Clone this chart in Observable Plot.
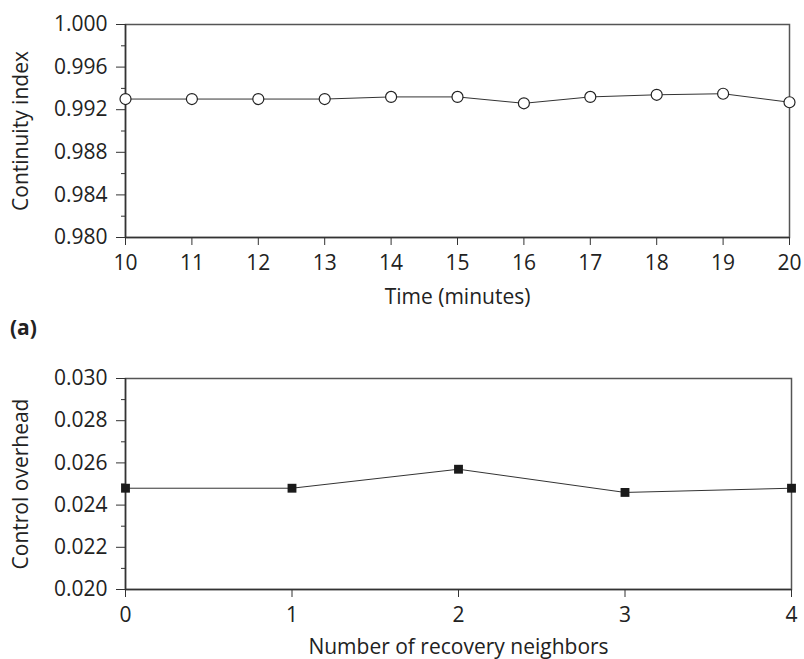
<!DOCTYPE html>
<html>
<head>
<meta charset="utf-8">
<script src="https://cdn.jsdelivr.net/npm/d3@7"></script>
<script src="https://cdn.jsdelivr.net/npm/@observablehq/plot@0.6"></script>
<style>
  html, body { margin: 0; padding: 0; background: #fff; }
  #wrap { position: relative; width: 804px; height: 659px; font-family: "Open Sans", sans-serif; overflow: hidden; }
  #c1 { position: absolute; left: 0; top: 0; }
  #c2 { position: absolute; left: 0; top: 350px; }
  #lab { position: absolute; left: 10px; top: 313px; font-size: 21px; font-weight: bold; color: #222; }
  svg { overflow: visible; }
</style>
</head>
<body>
<div id="wrap">
  <div id="c1"></div>
  <div id="lab">(a)</div>
  <div id="c2"></div>
</div>
<script>
// Panel (a): continuity index vs time
const timeMinutes = [10, 11, 12, 13, 14, 15, 16, 17, 18, 19, 20];
const continuityIndex = [0.9930, 0.9930, 0.9930, 0.9930, 0.9932, 0.9932, 0.9926, 0.9932, 0.9934, 0.9935, 0.9927];
const yTicksA = [0.980, 0.984, 0.988, 0.992, 0.996, 1.000];
const yMinorA = [0.982, 0.986, 0.990, 0.994, 0.998];

// Panel (b): control overhead vs number of recovery neighbors
const recoveryNeighbors = [0, 1, 2, 3, 4];
const controlOverhead = [0.0248, 0.0248, 0.0257, 0.0246, 0.0248];
const yTicksB = [0.020, 0.022, 0.024, 0.026, 0.028, 0.030];
const yMinorB = [0.021, 0.023, 0.025, 0.027, 0.029];

const dataA = timeMinutes.map((t, i) => ({x: t, y: continuityIndex[i]}));
const dataB = recoveryNeighbors.map((n, i) => ({x: n, y: controlOverhead[i]}));

const axisColor = "#333";
const fontSize = 21;

function panel({data, xDomain, xTicks, yDomain, yTicks, yMinor, xLabel, yLabel, marginTop, marginBottom, marginRight, height, symbol, fill, r, xLabelOffset}) {
  return Plot.plot({
    width: 804,
    height,
    marginLeft: 125,
    marginRight,
    marginTop,
    marginBottom,
    style: {fontFamily: "'Open Sans', sans-serif", fontSize: fontSize + "px", color: "#222", background: "#fff", overflow: "visible"},
    x: {domain: xDomain},
    y: {domain: yDomain},
    marks: [
      Plot.frame({stroke: "#555", strokeWidth: 1.5}),
      Plot.axisY({ticks: yMinor, tickSize: 4, text: null, label: null, stroke: axisColor}),
      Plot.axisY({ticks: yTicks, tickSize: 9, tickPadding: 9, tickFormat: d3.format(".3f"),
                  label: yLabel, labelAnchor: "center", labelArrow: "none", labelOffset: 112, stroke: axisColor}),
      Plot.axisX({ticks: xTicks, tickSize: 8, tickPadding: 10, tickFormat: d3.format("d"),
                  label: xLabel, labelAnchor: "center", labelArrow: "none", labelOffset: xLabelOffset, stroke: axisColor}),
      Plot.ruleY([yDomain[0]], {stroke: axisColor, strokeWidth: 1.5}),
      Plot.ruleX([xDomain[0]], {stroke: axisColor, strokeWidth: 1.5}),
      Plot.line(data, {x: "x", y: "y", stroke: "#333", strokeWidth: 1}),
      Plot.dot(data, {x: "x", y: "y", symbol, r, fill, stroke: symbol === "circle" ? "#222" : "none", strokeWidth: 1.2})
    ]
  });
}

document.getElementById("c1").appendChild(panel({
  data: dataA, xDomain: [10, 20], xTicks: timeMinutes, yDomain: [0.98, 1.0], yTicks: yTicksA, yMinor: yMinorA,
  xLabel: "Time (minutes)", yLabel: "Continuity index",
  marginTop: 24, marginBottom: 83, marginRight: 15, height: 320, symbol: "circle", fill: "#fff", r: 5.5, xLabelOffset: 66
}));

document.getElementById("c2").appendChild(panel({
  data: dataB, xDomain: [0, 4], xTicks: recoveryNeighbors, yDomain: [0.02, 0.03], yTicks: yTicksB, yMinor: yMinorB,
  xLabel: "Number of recovery neighbors", yLabel: "Control overhead",
  marginTop: 28, marginBottom: 70, marginRight: 13, height: 309, symbol: "square", fill: "#1a1a1a", r: 5, xLabelOffset: 64
}));
</script>
</body>
</html>
